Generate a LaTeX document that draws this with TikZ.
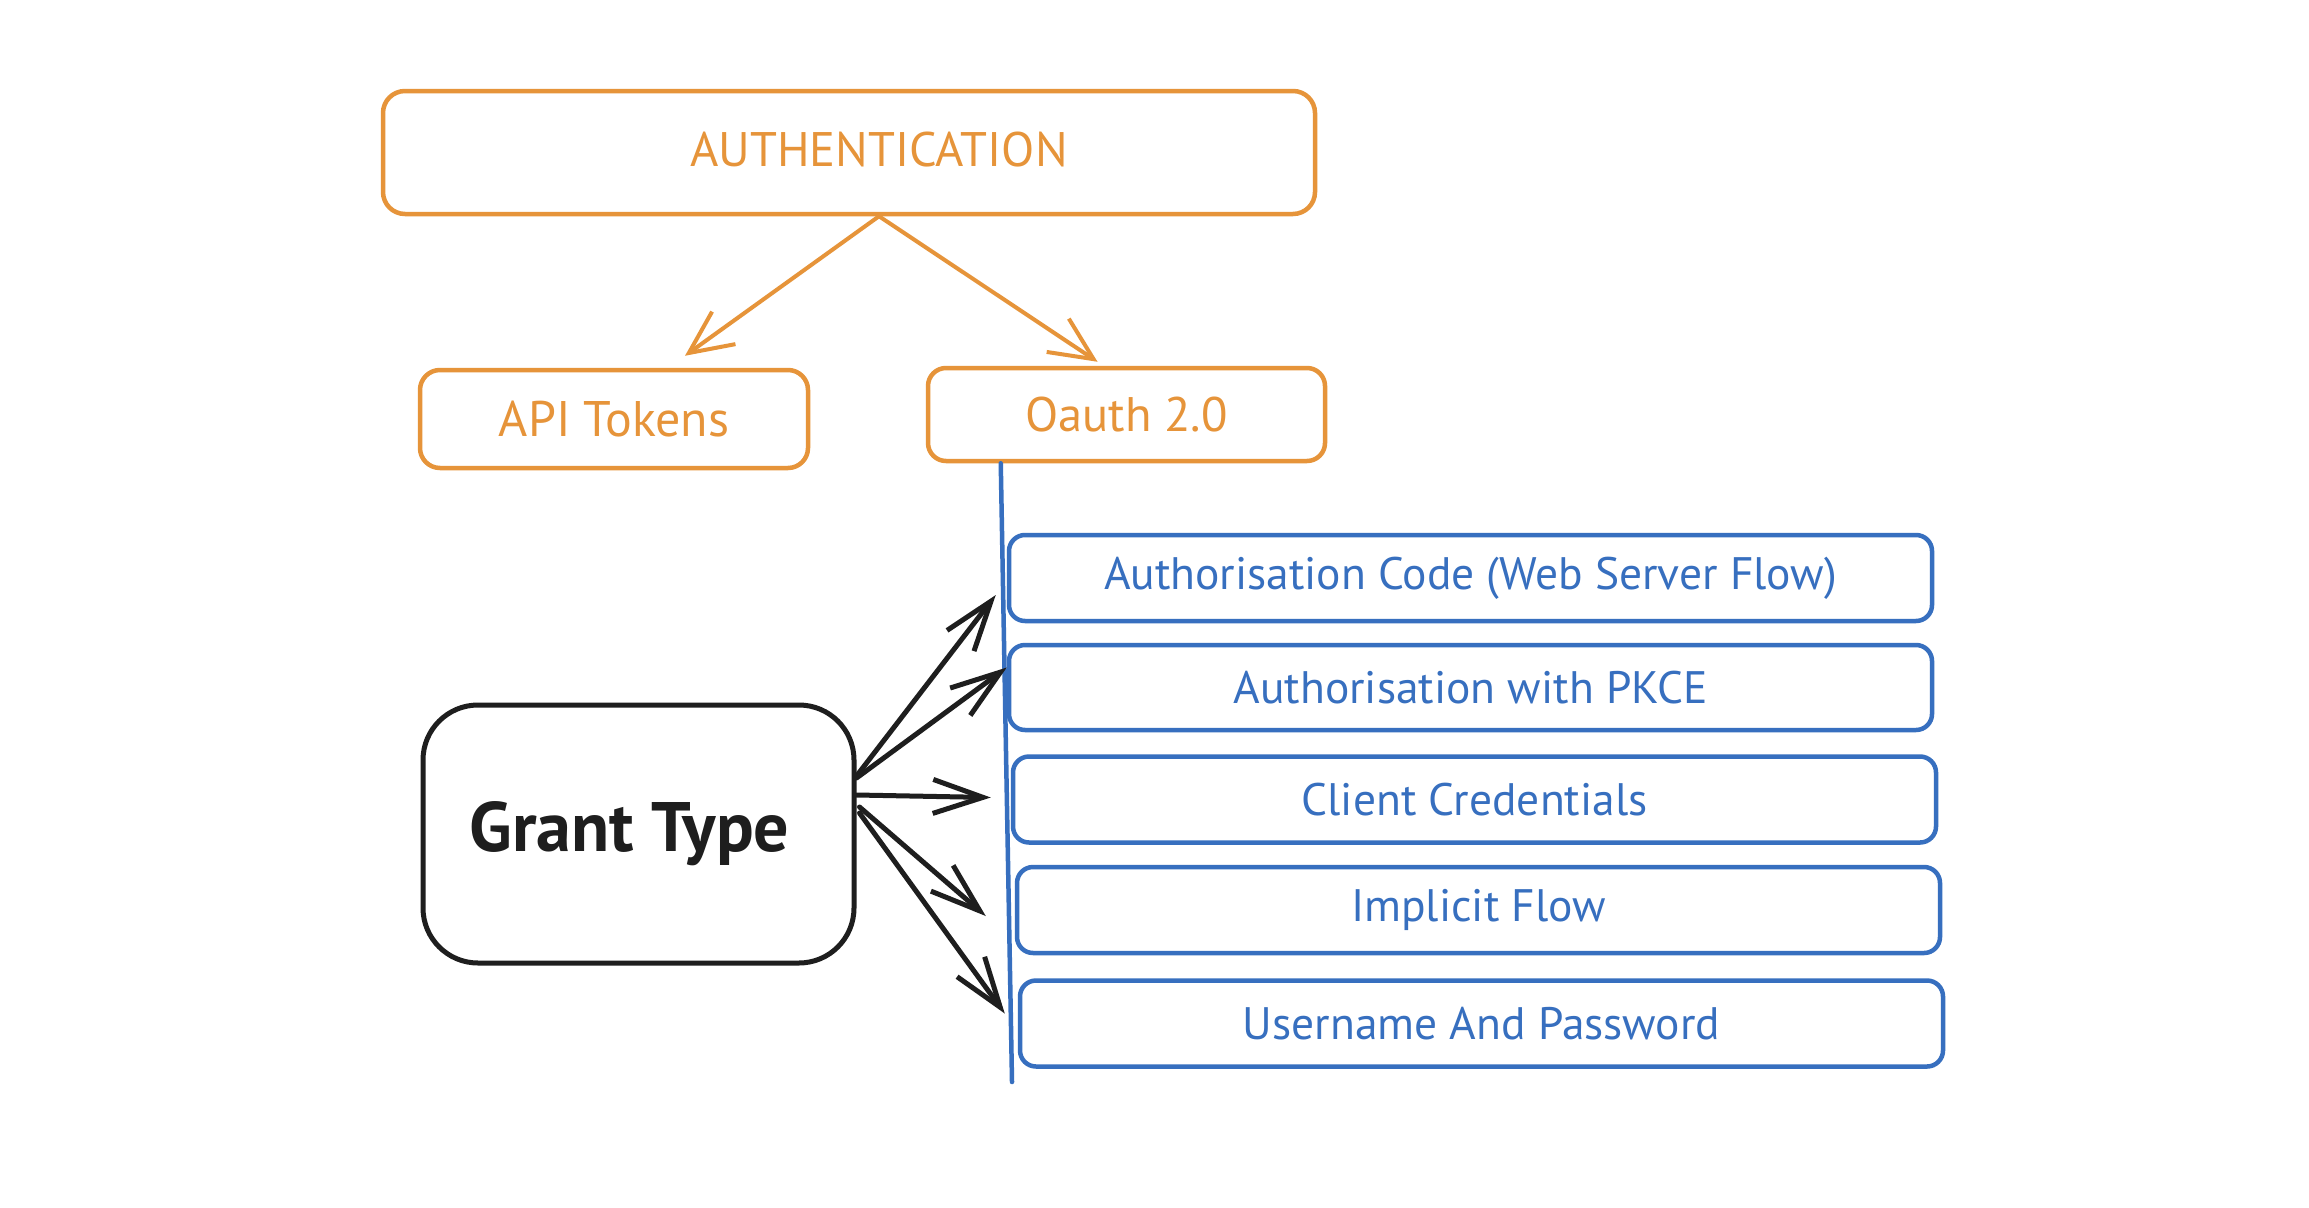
\documentclass[tikz,border=0pt]{standalone}
\usepackage{fontspec}
\setmainfont{PT Sans}
\usetikzlibrary{arrows.meta,calc}
\definecolor{ora}{RGB}{230,148,58}
\definecolor{blu}{RGB}{55,111,191}
\definecolor{blk}{RGB}{30,30,30}
\begin{document}
\begin{tikzpicture}[x=1pt,y=-1pt,
  obox/.style={draw=ora,line width=4.5pt,rounded corners=20pt,inner sep=0pt,text=ora},
  bluebox/.style={draw=blu,line width=4.5pt,rounded corners=16pt,inner sep=0pt,text=blu,
    minimum width=923pt,minimum height=86pt,font=\fontsize{45.5}{52}\selectfont},
  grantbox/.style={draw=blk,line width=5pt,rounded corners=55pt,inner sep=0pt,text=blk},
  oarrow/.style={draw=ora,line width=4pt,line cap=round,
    -{Straight Barb[length=43pt,width=40pt,line width=4pt]}},
  karrow/.style={draw=blk,line width=5pt,line cap=round,
    -{Straight Barb[length=50pt,width=34pt,line width=5pt]}},
  bline/.style={draw=blu,line width=4.5pt,line cap=round}]
\useasboundingbox[fill=white] (0,0) rectangle (2309,1207);
% orange part
\node[obox,minimum width=932pt,minimum height=123pt,rounded corners=22pt] (auth) at (849,152.5) {};
\node[text=ora,inner sep=0pt,font=\fontsize{48.5}{56}\selectfont] (authT) at (879,150) {AUTHENTICATION};
\node[obox,minimum width=388pt,minimum height=98pt,font=\fontsize{50}{58}\selectfont] (api) at (614,419) {API Tokens};
\node[obox,minimum width=397pt,minimum height=93pt,rounded corners=18pt,font=\fontsize{48.5}{56}\selectfont] (oauth) at (1126.5,414.5) {Oauth 2.0};
\coordinate (as) at (authT.center |- auth.south);
\draw[oarrow] (as) -- ($(api.north)+(71,-12)$);
\draw[oarrow] (as) -- ($(oauth.north)+(-29,-4)$);
% blue part
\node[bluebox] (b1) at (1470.5,578) {Authorisation Code (Web Server Flow)};
\node[bluebox,minimum height=85pt] (b2) at (1470.5,687.5) {Authorisation with PKCE};
\node[bluebox] (b3) at (1474.5,799.5) {Client Credentials};
\node[bluebox] (b4) at (1478.5,910) {Implicit Flow};
\node[bluebox] (b5) at (1481.5,1023.5) {Username And Password};
\coordinate (lineend) at (1012,1082);
\draw[bline] ($(oauth.south west)+(75,0)$) -- (lineend);
% grant type
\node[grantbox,minimum width=431pt,minimum height=258pt,font=\bfseries\fontsize{70}{78}\selectfont] (g) at (638.5,834) {\hspace*{-18pt}Grant Type};
\draw[karrow] ($(g.east)+(0,-58)$) -- ($(b1.west)+(-11,17)$);
\draw[karrow] ($(g.east)+(0,-56)$) -- ($(b2.west)+(0,-20)$);
\draw[karrow] ($(g.east)+(0,-39)$) -- ($(b3.west)+(-20,-2)$);
\draw[karrow] ($(g.east)+(3,-27)$) -- ($(b4.west)+(-29,6)$);
\draw[karrow] ($(g.east)+(3,-21)$) -- ($(b5.west)+(-13,-10)$);
\end{tikzpicture}
\end{document}
